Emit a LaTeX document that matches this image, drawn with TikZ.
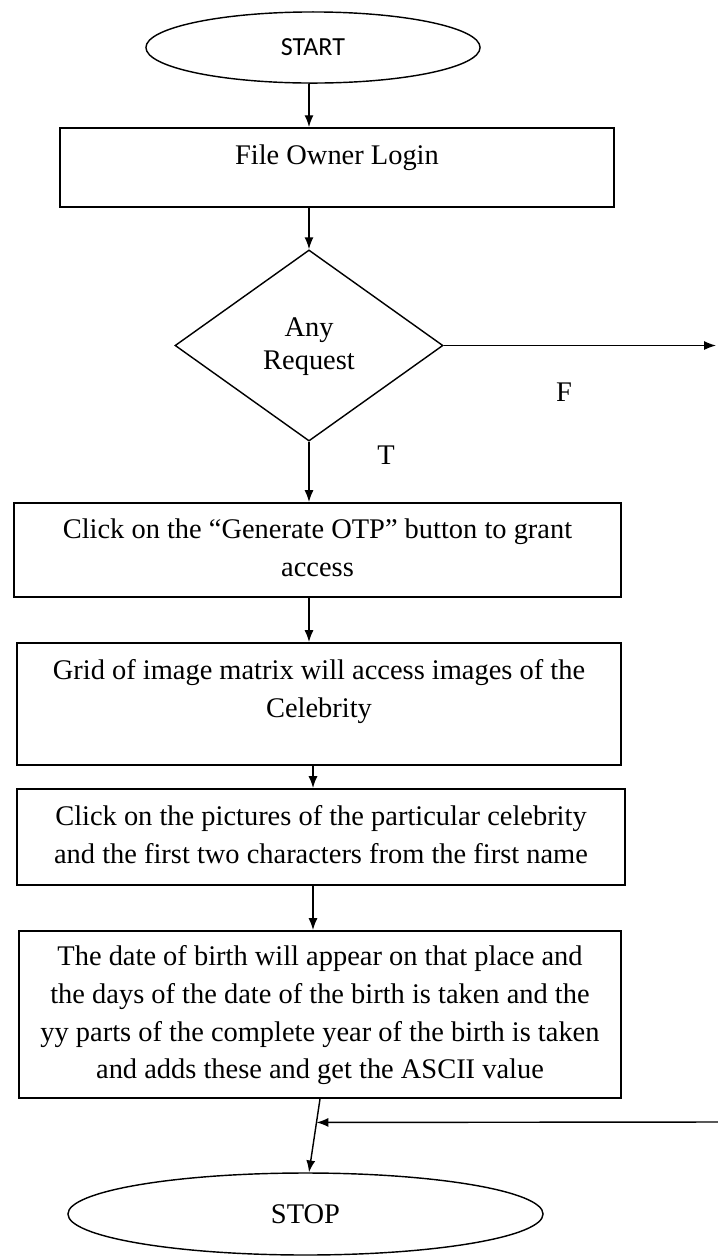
\documentclass[tikz,border=0pt]{standalone}
\usepackage{fontspec}
\setmainfont{Liberation Serif}
\newfontfamily\calibrifont{Carlito}
\usetikzlibrary{%
  arrows.meta,%
  calc,%
  shapes.geometric}

\begin{document}
\begin{tikzpicture}[
  every node/.style={font=\fontsize{12}{16}\selectfont},
  procbox/.style={rectangle,draw,thick,inner sep=0pt},
  termbox/.style={ellipse,draw,semithick,inner sep=0pt},
  decbox/.style={diamond,draw,semithick,inner sep=0pt},
  arr/.style={-{Latex[length=5pt,width=3.8pt]},semithick}]
\begin{scope}[x=0.422pt,y=-0.422pt]
\useasboundingbox (0,0) rectangle (718,1256);
% placement des noeuds
\node (S) at (313,47.5) [termbox,minimum width=141pt,minimum height=30pt] {\calibrifont\fontsize{11}{13}\selectfont START};
\node (L) at (337,167.5) [procbox,minimum width=233.8pt,minimum height=33.3pt] {\begin{tabular}{c}File Owner Login\\[-7.4pt]\mbox{}\end{tabular}};
\node (Q) at (309,345.5) [decbox,minimum width=113.1pt,minimum height=80.6pt] {\begin{tabular}{c}Any\\[-2pt]Request\end{tabular}};
\node (O) at (317.5,550) [procbox,minimum width=256.2pt,minimum height=39.7pt] {\begin{tabular}{c}Click on the ``Generate OTP'' button to grant\\access\end{tabular}};
\node (G) at (319,704) [procbox,minimum width=254.9pt,minimum height=51.5pt] {\begin{tabular}{c}Grid of image matrix will access images of the\\Celebrity\\[-4.8pt]\mbox{}\end{tabular}};
\node (P) at (321,837) [procbox,minimum width=256.6pt,minimum height=40.5pt] {\begin{tabular}{c}Click on the pictures of the particular celebrity\\and the first two characters from the first name\end{tabular}};
\node (B) at (320,1014.5) [procbox,minimum width=254pt,minimum height=70.5pt] {\begin{tabular}{c}The date of birth will appear on that place and\\the days of the date of the birth is taken and the\\yy parts of the complete year of the birth is taken\\and adds these and get the ASCII value\end{tabular}};
\node (E) at (305.5,1214) [termbox,minimum width=200.5pt,minimum height=34.6pt] {STOP};
\node (T) at (386,455) {T};
\node (F) at (564,392) {F};
\coordinate (F1) at (716,345.5);
\coordinate (F2) at (718,1122);
\coordinate (J) at ($(B.south)!0.32!(E.north -| Q.south)$);
% les fleches
\draw[arr] (S.south -| Q.north) -- (L.north -| Q.north);
\draw[arr] (L.south -| Q.north) -- (Q.north);
\draw[arr] (Q.east) -- (F1);
\draw[arr] (Q.south) -- (Q.south |- O.north);
\draw[arr] (O.south -| Q.south) -- (G.north -| Q.south);
\draw[arr] (G.south -| S.south) -- (P.north -| S.south);
\draw[arr] (P.south -| S.south) -- (B.north -| S.south);
\draw[arr] (B.south) -- (E.north -| Q.south);
\draw[arr] (F2) -- (J);
\end{scope}
\end{tikzpicture}
\end{document}
